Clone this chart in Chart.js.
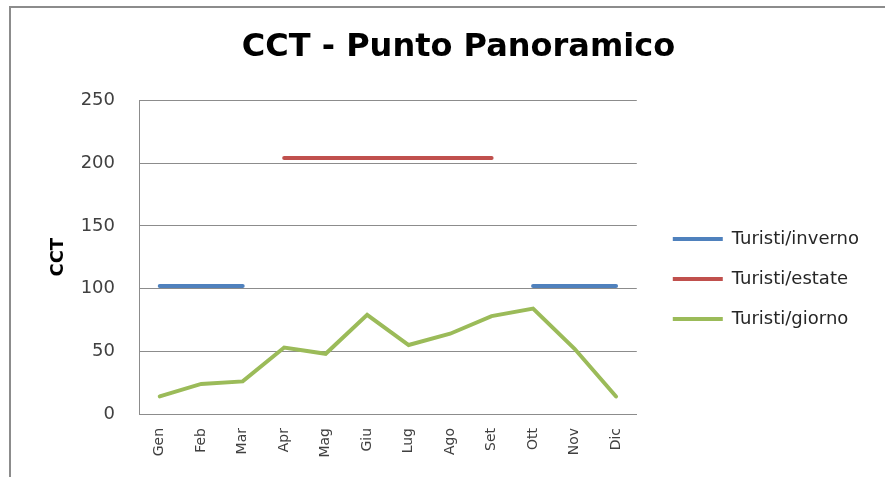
<!DOCTYPE html>
<html lang="it">
<head>
<meta charset="utf-8">
<title>CCT - Punto Panoramico</title>
<script src="https://cdn.jsdelivr.net/npm/chart.js@4"></script>
<style>
    body { margin: 0; background: #fff; }
    #contenitore { position: relative; width: 885px; height: 477px; }
    #cornice {
        position: absolute; left: 9px; top: 6px; right: -10px; bottom: -10px;
        border-left: 2px solid #8c8c8c; border-top: 2px solid #8c8c8c;
        pointer-events: none;
    }
</style>
</head>
<body>
<div id="contenitore">
    <canvas id="grafico"></canvas>
    <div id="cornice"></div>
</div>
<script>
const mesi = ['Gen', 'Feb', 'Mar', 'Apr', 'Mag', 'Giu', 'Lug', 'Ago', 'Set', 'Ott', 'Nov', 'Dic'];
const turistiInverno = [102, 102, 102, null, null, null, null, null, null, 102, 102, 102];
const turistiEstate = [null, null, null, 204, 204, 204, 204, 204, 204, null, null, null];
const turistiGiorno = [14, 24, 26, 53, 48, 79, 55, 64, 78, 84, 52, 14];
const tickY = [0, 50, 100, 150, 200, 250];

document.addEventListener('DOMContentLoaded', () => {
    const ctx = document.getElementById('grafico').getContext('2d');
    const font = 'DejaVu Sans';

    const serie = (label, data, color) => ({
        label: label,
        data: data,
        borderColor: color,
        backgroundColor: color,
        borderWidth: 4,
        borderCapStyle: 'round',
        pointRadius: 0,
        pointHoverRadius: 0,
        pointStyle: 'line',
        tension: 0,
        spanGaps: false,
        fill: false
    });

    new Chart(ctx, {
        type: 'line',
        data: {
            labels: mesi,
            datasets: [
                serie('Turisti/inverno', turistiInverno, '#4F81BD'),
                serie('Turisti/estate', turistiEstate, '#C0504D'),
                serie('Turisti/giorno', turistiGiorno, '#9BBB59')
            ]
        },
        options: {
            responsive: true,
            maintainAspectRatio: false,
            animation: false,
            layout: {
                padding: { left: 48, right: 16, top: 0, bottom: 0 }
            },
            plugins: {
                title: {
                    display: true,
                    text: 'CCT - Punto Panoramico',
                    color: '#000',
                    font: { family: font, size: 32, weight: 'bold' },
                    padding: { top: 28, bottom: 34 }
                },
                legend: {
                    position: 'right',
                    maxWidth: 260,
                    // titolo vuoto solo per abbassare la legenda
                    title: {
                        display: true,
                        text: ' ',
                        font: { family: font, size: 10 },
                        padding: { top: 0, bottom: 69 }
                    },
                    labels: {
                        usePointStyle: true,
                        pointStyleWidth: 50,
                        padding: 22,
                        color: '#262626',
                        font: { family: font, size: 18 }
                    }
                },
                tooltip: { enabled: false }
            },
            scales: {
                x: {
                    offset: true,
                    grid: { display: false, drawTicks: false },
                    border: { display: true, color: '#8c8c8c', width: 1 },
                    ticks: {
                        minRotation: 90,
                        maxRotation: 90,
                        autoSkip: false,
                        padding: 14,
                        color: '#404040',
                        font: { family: font, size: 14 }
                    },
                    afterFit: (scala) => { scala.height = 63; }
                },
                y: {
                    min: 0,
                    max: 250,
                    afterBuildTicks: (scala) => {
                        scala.ticks = tickY.map(v => ({ value: v }));
                    },
                    grid: { color: '#8c8c8c', drawTicks: false },
                    border: { display: true, color: '#8c8c8c', width: 1 },
                    ticks: {
                        padding: 24,
                        color: '#404040',
                        font: { family: font, size: 18 }
                    },
                    title: {
                        display: true,
                        text: 'CCT',
                        color: '#000',
                        font: { family: font, size: 18, weight: 'bold' },
                        padding: { top: 0, bottom: 0 }
                    },
                    afterFit: (scala) => { scala.width = 91; }
                },
                // asse vuoto: solo spazio tra grafico e legenda
                spazio: {
                    type: 'linear',
                    position: 'right',
                    display: true,
                    grid: { display: false, drawTicks: false },
                    border: { display: false },
                    ticks: { display: false },
                    afterFit: (scala) => { scala.width = 14; }
                }
            }
        }
    });
});
</script>
</body>
</html>
